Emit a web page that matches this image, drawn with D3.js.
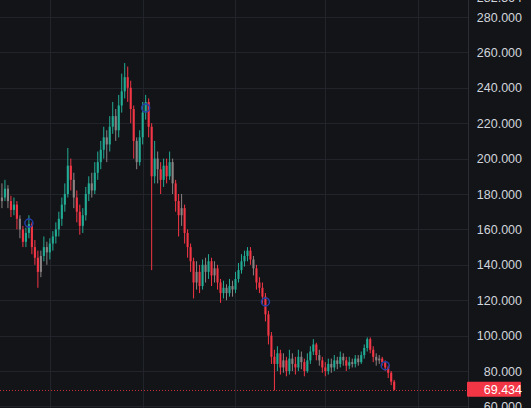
<!DOCTYPE html>
<html><head><meta charset="utf-8">
<script src="https://cdn.jsdelivr.net/npm/d3@7/dist/d3.min.js"></script>
<style>html,body{margin:0;padding:0;background:#131418;overflow:hidden}</style>
</head><body><svg id="c" width="531" height="408"></svg>
<script>
const opens  = [176,178,183,176,171,174,166,160,153,158,163,150,144,136,145,150,147,152,156,160,166,174,180,196,188,178,170,162,168,180,186,182,192,198,205,212,208,218,224,216,230,238,246,240,228,210,198,212,226,232,218,190,200,194,188,196,190,198,186,176,168,172,158,150,142,130,136,128,140,136,142,134,138,130,124,127,124,128,126,132,137,142,145,148,143,138,130,127,122,112,100,88,84,90,82,86,80,87,84,82,88,85,80,86,91,95,89,86,82,80,84,82,86,84,88,86,83,85,84,87,85,89,93,98,92,88,86,87,85,82,79,74];
const highs  = [186,188,185,179,178,176,168,162,161,168,164,154,148,148,156,153,155,159,164,170,178,186,206,200,192,182,174,172,184,190,192,198,204,210,218,216,224,232,228,236,248,254,252,244,230,212,216,232,236,234,220,210,204,198,200,200,204,200,188,180,180,174,160,152,144,142,140,143,144,146,144,142,140,132,131,129,132,131,136,141,146,148,150,150,145,140,133,130,124,114,102,92,94,92,90,88,92,90,88,92,91,87,90,94,98,96,92,88,85,87,87,89,88,91,90,88,88,87,89,89,91,95,99,99,94,90,89,88,86,83,80,75];
const lows   = [172,176,172,167,168,160,155,150,150,155,146,140,127,133,142,140,143,148,152,156,162,170,178,182,172,164,157,158,165,176,178,180,188,194,200,198,204,214,210,212,226,234,232,220,200,194,196,208,222,212,137,186,186,180,184,186,188,180,170,156,162,152,144,136,121,126,124,126,130,132,128,130,126,118.5,121,120,122,122,124,130,135,139,142,140,134,126,124,118,108,95,84,69,80,78,79,77,78,80,78,80,81,77,79,84,89,86,83,79,77,78,79,80,81,82,83,80,81,82,82,83,84,87,91,90,85,83,84,83,80,76,72,69];
const closes = [178,183,176,171,174,166,160,153,158,163,150,144,136,145,150,147,152,156,160,166,174,180,196,188,178,170,162,168,180,186,182,192,198,205,212,208,218,224,216,230,238,246,240,228,210,198,212,226,232,218,190,200,194,188,196,190,198,186,176,168,172,158,150,142,130,136,128,140,136,142,134,138,130,124,127,124,128,126,132,137,142,145,148,143,138,130,127,122,112,100,88,84,90,82,86,80,87,84,82,88,85,80,86,91,95,89,86,82,80,84,82,86,84,88,86,83,85,84,87,85,89,93,98,92,88,86,87,85,82,79,74,69.434];
const neutralIdx = [0,2,6,13,15,24,30,35,38,45,52,57,60,65,68,71,75,77,84,94,97,100,106,110,112,114,117,119,125,126];
const markerIdx = [9,48,88,128];
const markerPrice = [163.6,228.6,119,83];
const priceTicks = [60,80,100,120,140,160,180,200,220,240,260,280];
const lastPrice = 69.434;
const topLabel = "282.564";
const startDate = new Date(2022,5,15);
const totalSlots = 156;

const W = 531, H = 408, plotW = 468;
const svg = d3.select("#c");
const dates = d3.timeDay.range(startDate, d3.timeDay.offset(startDate, totalSlots));
const x = d3.scaleBand().domain(dates.map(d=>+d)).range([0, plotW]).padding(0.3);
const y = d3.scaleLinear().domain([60,280]).range([406.4, 17]);
const data = closes.map((c,i)=>({d:dates[i],o:opens[i],h:highs[i],l:lows[i],c:c,n:neutralIdx.includes(i)}));

svg.append("rect").attr("width",W).attr("height",H).attr("fill","#131418");
const grid = svg.append("g");
grid.selectAll("line.h").data(priceTicks).join("line")
  .attr("x1",0).attr("x2",plotW).attr("y1",d=>Math.round(y(d))+0.5).attr("y2",d=>Math.round(y(d))+0.5)
  .attr("stroke","#22242b").attr("stroke-width",1);
const months = d3.timeMonth.range(startDate, d3.timeDay.offset(startDate,totalSlots)).filter(m=>+m>+startDate);
grid.selectAll("line.v").data(months).join("line")
  .attr("x1",d=>Math.round(x(+d)+x.bandwidth()/2)+0.5).attr("x2",d=>Math.round(x(+d)+x.bandwidth()/2)+0.5)
  .attr("y1",0).attr("y2",H).attr("stroke","#22242b");

const up="#22ab94", dn="#f23645", ne="#8b8283";
const col = d => d.n ? ne : (d.c>=d.o ? up : dn);
const cx = d => x(+d.d) + x.bandwidth()/2;
const g = svg.append("g");
g.selectAll("line.w").data(data).join("line")
  .attr("x1",cx).attr("x2",cx).attr("y1",d=>y(d.h)).attr("y2",d=>y(d.l))
  .attr("stroke",col).attr("stroke-width",1);
g.selectAll("rect.b").data(data).join("rect")
  .attr("x",d=>x(+d.d)).attr("width",x.bandwidth())
  .attr("y",d=>y(Math.max(d.o,d.c))).attr("height",d=>Math.max(1,Math.abs(y(d.o)-y(d.c))))
  .attr("fill",col);

svg.selectAll("circle.m").data(markerIdx).join("circle")
  .attr("cx",(d)=>x(+dates[d])+x.bandwidth()/2).attr("cy",(d,i)=>y(markerPrice[i])).attr("r",4)
  .attr("fill","none").attr("stroke","#2140a8").attr("stroke-width",1.5);

svg.append("line").attr("x1",0).attr("x2",plotW).attr("y1",Math.round(y(lastPrice))+0.5).attr("y2",Math.round(y(lastPrice))+0.5)
  .attr("stroke","#f23645").attr("stroke-dasharray","1,2").attr("opacity",0.8);

// price axis
svg.append("rect").attr("x",plotW).attr("y",0).attr("width",W-plotW).attr("height",H).attr("fill","#131418");
svg.append("line").attr("x1",plotW+0.5).attr("x2",plotW+0.5).attr("y1",0).attr("y2",H).attr("stroke","#2a2d35");
const axis = d3.axisRight(y).tickValues(priceTicks).tickFormat(d3.format(".3f")).tickSize(0).tickPadding(0);
const ag = svg.append("g").attr("transform",`translate(${W-9},0)`).call(axis);
ag.select(".domain").remove();
ag.selectAll("text").attr("text-anchor","end").attr("fill","#d1d4dc")
  .style("font-family","'Liberation Sans',Arial,sans-serif").style("font-size","12.5px");
svg.append("text").attr("x",W-9).attr("y",2).attr("text-anchor","end").attr("fill","#d1d4dc")
  .style("font-family","'Liberation Sans',Arial,sans-serif").style("font-size","12.5px").text(topLabel);
const ly = y(lastPrice);
svg.append("rect").attr("x",plotW-1).attr("y",ly-8).attr("width",54).attr("height",15).attr("rx",1).attr("fill","#f23645");
svg.append("text").attr("x",W-9).attr("y",ly).attr("dy","0.35em").attr("text-anchor","end").attr("fill","#ffffff")
  .style("font-family","'Liberation Sans',Arial,sans-serif").style("font-size","12.5px").text(d3.format(".3f")(lastPrice));
</script></body></html>
